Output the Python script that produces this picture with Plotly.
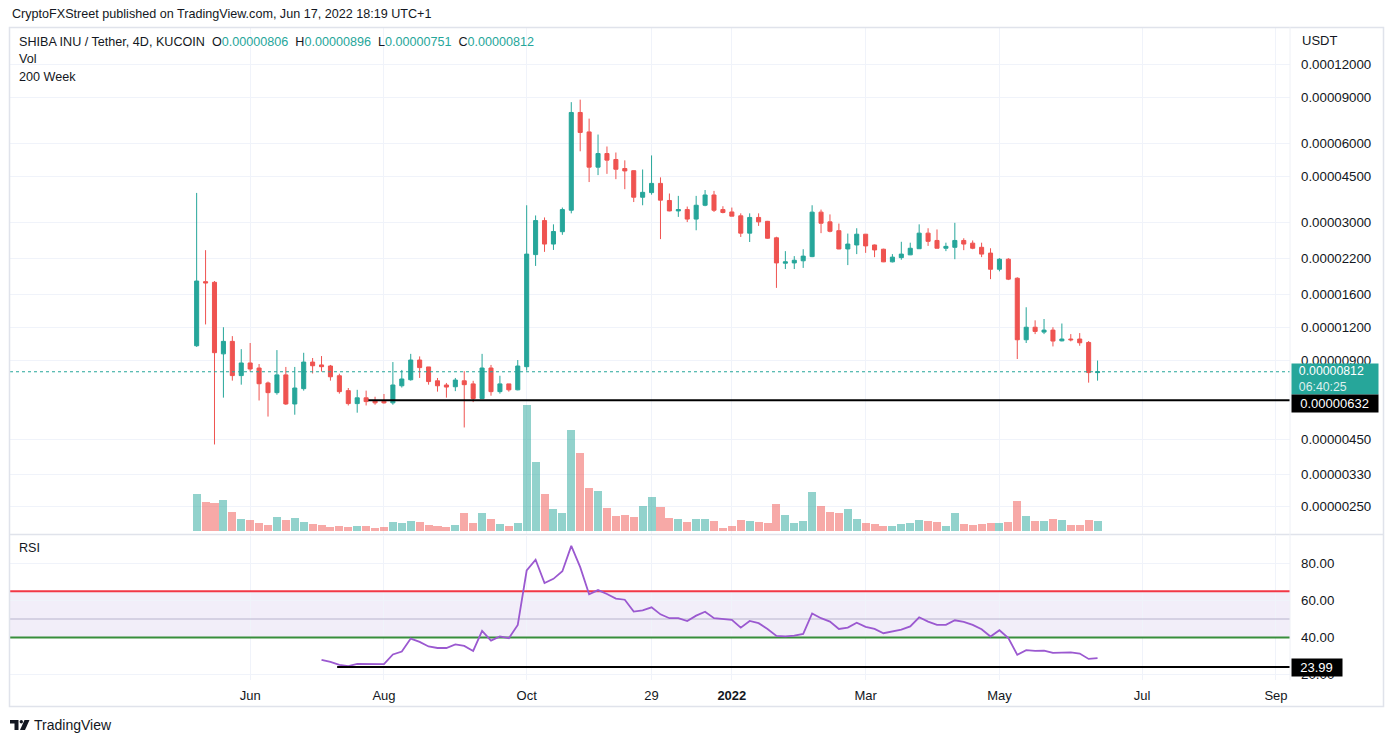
import numpy as np
import pandas as pd
import plotly.graph_objects as go

# ---------------- data ----------------
first_bar = "2021-05-06"
bar_days = 4
price_unit = 1e-6  # OHLC lists below are in micro-USDT

open_u = [10.2, 17.9, 17.8, 9.5, 10.6, 7.85, 8.77, 8.39, 7.36, 6.76,
          7.9, 6.12, 7.0, 8.84, 8.62, 8.54, 7.84, 6.88, 6.14, 6.46,
          6.31, 6.27, 6.18, 7.18, 7.57, 9.0, 8.47, 7.5, 7.23, 7.12,
          7.5, 7.3, 6.42, 8.39, 6.82, 7.3, 6.93, 8.49, 22.7, 30.6,
          24.9, 27.75, 33.5, 79.0, 66.6, 48.9, 55.1, 52.3, 48.3, 47.4,
          37.55, 39.1, 42.4, 36.5, 33.3, 33.7, 31.0, 35.0, 38.3, 33.7,
          33.0, 31.9, 27.4, 31.45, 30.4, 26.3, 21.05, 21.1, 21.5, 22.3,
          32.95, 30.25, 28.0, 23.85, 24.7, 27.15, 24.7, 23.8, 21.3, 22.1,
          22.65, 23.9, 27.4, 25.7, 24.0, 24.2, 25.7, 25.1, 24.2, 23.0,
          19.96, 21.8, 18.45, 10.75, 12.0, 11.5, 11.7, 10.65, 10.82, 10.82,
          10.5, 8.06]
high_u = [39.0, 23.6, 18.0, 12.0, 11.1, 9.9, 10.45, 8.69, 7.45, 9.82,
          8.47, 8.47, 9.59, 9.16, 9.32, 8.62, 7.98, 7.04, 6.93, 6.88,
          6.52, 6.68, 8.84, 8.25, 9.5, 9.29, 8.47, 7.69, 7.36, 7.69,
          8.16, 7.5, 9.5, 8.62, 7.84, 7.3, 9.0, 35.0, 32.0, 31.45,
          29.6, 34.3, 86.5, 88.4, 74.85, 65.1, 58.6, 55.6, 51.9, 47.5,
          47.9, 54.2, 44.7, 38.8, 38.0, 34.6, 38.0, 40.0, 39.7, 34.7,
          34.3, 32.6, 32.6, 32.6, 30.5, 26.55, 23.4, 22.4, 23.8, 35.0,
          33.7, 32.3, 29.8, 27.3, 28.6, 27.2, 24.8, 23.9, 22.8, 25.4,
          25.2, 29.6, 28.6, 28.3, 25.2, 30.0, 26.2, 25.7, 25.2, 24.0,
          22.0, 22.0, 18.6, 14.3, 12.75, 12.9, 12.0, 12.4, 11.3, 11.4,
          10.63, 8.96]
low_u = [10.1, 12.3, 4.29, 6.47, 7.51, 7.25, 8.13, 6.31, 5.48, 6.64,
         6.07, 5.57, 6.88, 8.0, 8.13, 7.51, 6.70, 6.04, 5.67, 6.04,
         6.08, 6.14, 6.08, 7.07, 7.51, 7.69, 7.25, 6.82, 6.47, 6.85,
         4.98, 6.22, 6.4, 6.58, 6.7, 6.82, 6.9, 8.2, 20.55, 23.25,
         23.65, 27.0, 32.6, 56.2, 42.9, 45.6, 46.1, 44.0, 40.3, 36.0,
         35.0, 38.4, 26.0, 33.2, 31.6, 30.2, 28.1, 34.7, 33.0, 32.6,
         31.8, 26.5, 25.35, 29.2, 26.1, 16.95, 20.0, 20.0, 20.2, 22.2,
         27.4, 27.6, 23.8, 20.7, 22.8, 23.05, 22.2, 21.25, 21.2, 21.7,
         22.6, 23.9, 24.5, 24.0, 23.4, 21.8, 23.6, 23.8, 22.2, 18.3,
         19.6, 18.15, 9.08, 10.45, 11.3, 11.3, 10.14, 10.6, 10.6, 10.2,
         7.38, 7.51]
close_u = [18.0, 17.7, 9.6, 10.6, 7.85, 8.77, 8.32, 7.31, 6.76, 7.9,
           6.12, 7.04, 8.84, 8.56, 8.49, 7.77, 6.82, 6.14, 6.46, 6.25,
           6.18, 6.18, 7.23, 7.62, 9.0, 8.42, 7.45, 7.18, 7.1, 7.55,
           7.25, 6.42, 8.39, 6.82, 7.3, 6.93, 8.54, 22.8, 30.6, 24.9,
           27.8, 33.7, 79.0, 66.3, 48.9, 55.1, 52.0, 48.0, 47.3, 37.55,
           39.2, 42.4, 36.6, 33.3, 33.7, 31.0, 35.0, 38.3, 33.5, 32.85,
           31.8, 27.4, 31.45, 30.25, 26.2, 21.1, 21.3, 21.6, 22.4, 32.95,
           29.9, 27.85, 23.85, 24.9, 27.15, 24.5, 23.65, 21.3, 22.2, 22.8,
           24.0, 27.4, 25.5, 24.0, 24.4, 25.7, 24.9, 24.0, 22.8, 19.96,
           21.8, 18.3, 10.75, 12.0, 11.57, 11.7, 10.63, 10.82, 10.75, 10.47,
           8.06, 8.12]
# relative volume (no scale shown on the chart)
volume = [37, 29, 28, 31, 19, 12, 11, 8, 6, 14,
          11, 13, 9, 7, 6, 4, 5, 4, 5, 5,
          3, 4, 9, 8, 10, 9, 6, 5, 4, 6,
          18, 8, 18, 12, 7, 5, 8, 126, 69, 37,
          22, 18, 101, 78, 43, 40, 23, 15, 16, 14,
          25, 34, 24, 13, 12, 9, 12, 12, 10, 3,
          5, 11, 10, 9, 8, 27, 16, 8, 10, 39,
          25, 19, 18, 22, 12, 8, 7, 5, 5, 7,
          8, 11, 10, 9, 5, 18, 7, 6, 7, 8,
          8, 9, 30, 15, 10, 10, 12, 11, 6, 6,
          11, 10]
rsi_first_index = 14
rsi = [27.9, 26.8, 25.2, 24.5, 25.7, 25.6, 25.6, 25.6, 30.8, 32.4,
       39.4, 37.6, 35.1, 34.3, 34.3, 36.2, 35.4, 32.7, 43.5, 38.3,
       40.6, 39.6, 46.8, 76.2, 82.0, 69.4, 71.7, 75.8, 89.5, 78.0,
       63.3, 65.6, 63.5, 61.0, 60.4, 54.0, 54.7, 56.3, 52.5, 50.4,
       50.5, 48.9, 51.8, 53.9, 50.4, 50.0, 49.5, 45.3, 48.9, 47.7,
       44.6, 40.8, 40.6, 41.0, 41.9, 53.0, 50.4, 48.6, 44.6, 45.3,
       48.0, 45.7, 44.6, 42.3, 43.2, 44.2, 46.0, 50.9, 48.6, 46.8,
       46.8, 49.3, 48.4, 46.8, 44.4, 40.5, 43.9, 39.6, 30.6, 33.1,
       32.7, 32.9, 31.7, 31.9, 31.9, 31.3, 28.4, 28.8]

rsi_upper, rsi_middle, rsi_lower = 65, 50, 40
support_price = 0.00000632
support_start = "2021-07-22"
rsi_support = 23.99
rsi_support_start = "2021-07-08"
countdown = "06:40:25"

price_ticks = [0.0000025, 0.0000033, 0.0000045, 0.000009, 0.000012, 0.000016,
               0.000022, 0.00003, 0.000045, 0.00006, 0.00009, 0.00012]
rsi_ticks = [20, 40, 60, 80]
x_tick_dates = ["2021-05-30", "2021-07-29", "2021-10-01", "2021-11-26", "2022-01-01",
                "2022-03-02", "2022-05-01", "2022-07-04", "2022-09-02"]
x_tick_text = ["Jun", "Aug", "Oct", "29", "<b>2022</b>", "Mar", "May", "Jul", "Sep"]

published = "CryptoFXStreet published on TradingView.com, Jun 17, 2022 18:19 UTC+1"
symbol = "SHIBA INU / Tether, 4D, KUCOIN"

# ---------------- layout geometry / styles ----------------
W, H = 1393, 744
FONT = "Liberation Sans, Arial, sans-serif"
TXT = "#131722"
UP, DOWN = "#26a69a", "#ef5350"
GRID = "#f0f3fa"
BORDER = "#e0e3eb"
PURPLE = "#9b59d0"

def fx(p):
    return p / W

def fy(p):
    return 1 - p / H

PANE_L, PANE_R = 10, 1290
PRICE_T, PRICE_B = 28, 535
RSI_T, RSI_B = 537, 682
price_range = [1.963e-6, 1.659e-4]
rsi_range = [16.9, 95.1]

n = len(open_u)
D0 = pd.Timestamp(first_bar)
dates = [D0 + pd.Timedelta(days=bar_days * i) for i in range(n)]
o = np.array(open_u) * price_unit
h = np.array(high_u) * price_unit
l = np.array(low_u) * price_unit
c = np.array(close_u) * price_unit
last_price = c[-1]

x_start = (D0 - pd.Timedelta(days=83.7)).strftime("%Y-%m-%d %H:%M")
x_end = (D0 + pd.Timedelta(days=490.3)).strftime("%Y-%m-%d %H:%M")

vmax = max(volume)
pane_h = PRICE_B - PRICE_T
vol_range = [-3 / 126 * vmax, (pane_h - 3) / 126 * vmax]
vol_colors = ["rgba(38,166,154,0.5)" if cc >= oo else "rgba(239,83,80,0.5)"
              for oo, cc in zip(o, c)]

fig = go.Figure()
# RSI band lines (drawn first so the RSI line sits on top)
for lvl, col, wd in [(rsi_middle, "rgba(160,155,185,0.35)", 2),
                     (rsi_upper, "#f23645", 2), (rsi_lower, "#388e3c", 2)]:
    fig.add_trace(go.Scatter(x=[x_start, x_end], y=[lvl, lvl], mode="lines",
                             line=dict(color=col, width=wd), xaxis="x2", yaxis="y2"))
fig.add_trace(go.Bar(x=dates, y=volume, marker=dict(color=vol_colors, line=dict(width=0)),
                     width=bar_days * 0.9 * 86400000, xaxis="x", yaxis="y"))
fig.add_trace(go.Candlestick(
    x=dates, open=o, high=h, low=l, close=c, xaxis="x", yaxis="y3",
    increasing=dict(line=dict(color=UP, width=1), fillcolor=UP),
    decreasing=dict(line=dict(color=DOWN, width=1), fillcolor=DOWN),
    whiskerwidth=0))
fig.add_trace(go.Scatter(x=[x_start, x_end], y=[last_price, last_price], mode="lines",
                         line=dict(color=UP, width=1, dash="dot"), xaxis="x", yaxis="y3"))
fig.add_trace(go.Scatter(x=[support_start, x_end], y=[support_price, support_price], mode="lines",
                         line=dict(color="black", width=2), xaxis="x", yaxis="y3"))
fig.add_trace(go.Scatter(x=dates[rsi_first_index:], y=rsi, mode="lines",
                         line=dict(color=PURPLE, width=1.8), xaxis="x2", yaxis="y2"))
fig.add_trace(go.Scatter(x=[rsi_support_start, x_end], y=[rsi_support, rsi_support], mode="lines",
                         line=dict(color="black", width=2), xaxis="x2", yaxis="y2"))

shapes = [
    dict(type="rect", xref="paper", yref="y2", x0=fx(PANE_L), x1=fx(PANE_R),
         y0=rsi_lower, y1=rsi_upper, fillcolor="rgba(126,87,194,0.1)", line=dict(width=0), layer="below"),
    # frame and separators
    dict(type="rect", xref="paper", yref="paper", x0=fx(9.5), x1=fx(1383.5), y0=fy(708.5), y1=fy(27.5),
         line=dict(color=BORDER, width=1.5), layer="above"),
    dict(type="line", xref="paper", yref="paper", x0=fx(9.5), x1=fx(1383.5), y0=fy(536), y1=fy(536),
         line=dict(color=BORDER, width=1.5), layer="above"),
    dict(type="line", xref="paper", yref="paper", x0=fx(PANE_R), x1=fx(PANE_R), y0=fy(682), y1=fy(27.5),
         line=dict(color="#eef0f5", width=1), layer="above"),
]

# TradingView logo
def path_px(points):
    return "M " + " L ".join(f"{fx(a):.5f},{fy(b):.5f}" for a, b in points) + " Z"

shapes.append(dict(type="path", xref="paper", yref="paper",
                   path=path_px([(10, 722), (18.5, 722), (18.5, 732), (14.5, 732), (14.5, 725.5), (10, 725.5)]),
                   fillcolor="#131722", line=dict(width=0), layer="above"))
shapes.append(dict(type="circle", xref="paper", yref="paper", x0=fx(19.6), x1=fx(23.0), y0=fy(725.4), y1=fy(722.0),
                   fillcolor="#131722", line=dict(width=0), layer="above"))
shapes.append(dict(type="path", xref="paper", yref="paper",
                   path=path_px([(24.5, 722), (29.5, 722), (25.0, 732), (20.0, 732)]),
                   fillcolor="#131722", line=dict(width=0), layer="above"))

def span(v):
    return f"<span style='color:{UP}'>{v:.8f}</span>"

nb = "\u00a0"
header = (f"{symbol}{nb}{nb}O{span(o[-1])}{nb}{nb}H{span(h[-1])}"
          f"{nb}{nb}L{span(l[-1])}{nb}{nb}C{span(c[-1])}")

HF = 12.6
annotations = [
    dict(text=published, xref="paper", yref="paper", x=fx(10), y=fy(14), xanchor="left", yanchor="middle",
         showarrow=False, font=dict(size=HF, color=TXT)),
    dict(text=header, xref="paper", yref="paper", x=fx(17), y=fy(42.5), xanchor="left", yanchor="middle",
         showarrow=False, font=dict(size=HF, color=TXT)),
    dict(text="Vol", xref="paper", yref="paper", x=fx(17), y=fy(59.5), xanchor="left", yanchor="middle",
         showarrow=False, font=dict(size=HF, color=TXT)),
    dict(text="200 Week", xref="paper", yref="paper", x=fx(17), y=fy(77), xanchor="left", yanchor="middle",
         showarrow=False, font=dict(size=HF, color=TXT)),
    dict(text="RSI", xref="paper", yref="paper", x=fx(17), y=fy(549), xanchor="left", yanchor="middle",
         showarrow=False, font=dict(size=HF, color=TXT)),
    dict(text="USDT", xref="paper", yref="paper", x=fx(1300), y=fy(41), xanchor="left", yanchor="middle",
         showarrow=False, font=dict(size=13, color=TXT)),
    dict(text="TradingView", xref="paper", yref="paper", x=fx(32), y=fy(727), xanchor="left", yanchor="middle",
         showarrow=False, font=dict(size=14, color=TXT)),
    # right-axis label boxes
    dict(text=(f"{nb}{nb}{last_price:.8f}<br>"
               f"<span style='color:rgba(255,255,255,0.85)'>{nb}{nb}{countdown}</span>"),
         xref="paper", yref="y3",
         x=fx(PANE_R + 0.5), y=np.log10(last_price), xanchor="left", yanchor="top", yshift=9,
         showarrow=False, align="left", width=86, bgcolor=UP, borderpad=0,
         font=dict(size=12.3, color="white")),
    dict(text=f"{nb}{nb}{support_price:.8f}", xref="paper", yref="y3",
         x=fx(PANE_R + 0.5), y=np.log10(support_price), xanchor="left", yanchor="middle", yshift=-3,
         showarrow=False, align="left", width=84, height=15, bgcolor="black", borderpad=1,
         font=dict(size=13, color="white")),
    dict(text=f"{nb}{nb}{rsi_support:.2f}", xref="paper", yref="y2",
         x=fx(PANE_R + 0.5), y=rsi_support, xanchor="left", yanchor="middle",
         showarrow=False, align="left", width=48, height=15, bgcolor="black", borderpad=1,
         font=dict(size=13, color="white")),
]

fig.update_layout(
    width=W, height=H, margin=dict(l=0, r=0, t=0, b=0),
    paper_bgcolor="white", plot_bgcolor="white", showlegend=False, hovermode=False,
    boxgap=0.35, bargap=0,
    font=dict(family=FONT, size=13, color=TXT),
    xaxis=dict(domain=[fx(PANE_L), fx(PANE_R)], anchor="y", type="date", range=[x_start, x_end],
               tickmode="array", tickvals=x_tick_dates, showticklabels=False,
               showgrid=True, gridcolor=GRID, zeroline=False, showline=False,
               rangeslider=dict(visible=False), fixedrange=True),
    xaxis2=dict(domain=[fx(PANE_L), fx(PANE_R)], anchor="y2", type="date", matches="x",
                range=[x_start, x_end], tickmode="array", tickvals=x_tick_dates, ticktext=x_tick_text,
                showgrid=True, gridcolor=GRID, zeroline=False, showline=False, ticks="",
                ticklabelstandoff=6, tickfont=dict(size=13, color=TXT), fixedrange=True),
    yaxis=dict(domain=[fy(PRICE_B), fy(PRICE_T)], anchor="x", range=vol_range, visible=False,
               fixedrange=True),
    yaxis3=dict(overlaying="y", anchor="x", side="right", type="log",
                range=[np.log10(price_range[0]), np.log10(price_range[1])],
                tickmode="array", tickvals=price_ticks, ticktext=[f"{v:.8f}" for v in price_ticks],
                showgrid=True, gridcolor=GRID, zeroline=False, showline=False, ticks="",
                ticklabelstandoff=10, tickfont=dict(size=13.3, color=TXT), fixedrange=True),
    yaxis2=dict(domain=[fy(RSI_B), fy(RSI_T)], anchor="x2", side="right", range=rsi_range,
                tickmode="array", tickvals=rsi_ticks, ticktext=[f"{v:.2f}" for v in rsi_ticks],
                showgrid=True, gridcolor=GRID, zeroline=False, showline=False, ticks="",
                ticklabelstandoff=10, tickfont=dict(size=13.3, color=TXT), fixedrange=True),
    shapes=shapes,
    annotations=annotations,
)

fig.write_html("out.html")
